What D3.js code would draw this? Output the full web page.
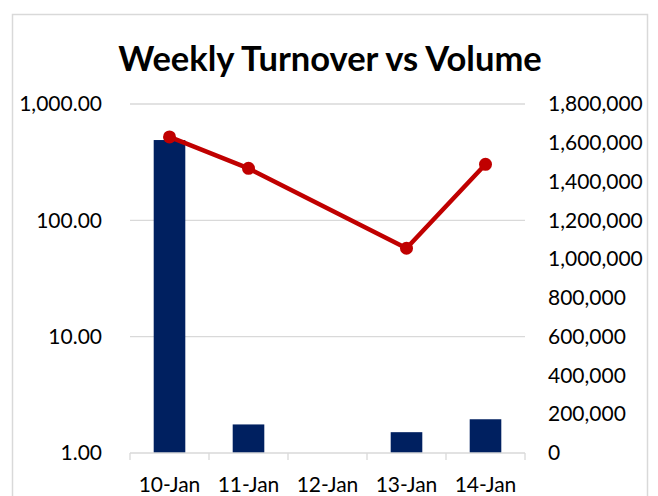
<!DOCTYPE html>
<html>
<head>
<meta charset="utf-8">
<script src="https://cdn.jsdelivr.net/npm/d3@7"></script>
<style>
  body { margin: 0; background: #fff; }
  svg { display: block; font-family: Lato, "Noto Sans", sans-serif; }
</style>
</head>
<body>
<div id="chart"></div>
<script>
// data
var categories = ['10-Jan', '11-Jan', '12-Jan', '13-Jan', '14-Jan'];
var turnover = [490, 1.76, null, 1.51, 1.95];           // bars, left log axis
var volume = [1630000, 1468000, null, 1056000, 1489000]; // line, right axis
var leftTicks = [1, 10, 100, 1000];
var rightTicks = [0, 200000, 400000, 600000, 800000, 1000000, 1200000, 1400000, 1600000, 1800000];

var width = 658, height = 496;
var plot = { left: 130, right: 525, top: 104, bottom: 453 };

var svg = d3.select('#chart').append('svg')
    .attr('width', width)
    .attr('height', height);

// chart area border
svg.append('rect')
    .attr('x', 12.5).attr('y', 14.5)
    .attr('width', 635).attr('height', 500)
    .attr('fill', 'none')
    .attr('stroke', '#d9d9d9')
    .attr('stroke-width', 1.5);

var title = svg.append('text')
    .attr('x', 330)
    .attr('y', 71)
    .attr('text-anchor', 'middle')
    .attr('font-size', 34.5)
    .attr('font-weight', 'bold')
    .attr('fill', '#000')
    .text('Weekly Turnover vs Volume');

var x = d3.scaleBand()
    .domain(categories)
    .range([plot.left, plot.right])
    .paddingInner(0)
    .paddingOuter(0);

var yLeft = d3.scaleLog()
    .domain([1, 1000])
    .range([plot.bottom, plot.top]);

var yRight = d3.scaleLinear()
    .domain([0, 1800000])
    .range([plot.bottom, plot.top]);

// gridlines
svg.append('g')
    .selectAll('line')
    .data(leftTicks.slice(1))
    .join('line')
    .attr('x1', plot.left).attr('x2', plot.right)
    .attr('y1', d => yLeft(d)).attr('y2', d => yLeft(d))
    .attr('stroke', '#d9d9d9')
    .attr('stroke-width', 1.3);

// bars
var barW = x.bandwidth() * 0.4;
svg.append('g')
    .selectAll('rect')
    .data(categories.map((c, i) => ({ c: c, v: turnover[i] })).filter(d => d.v != null))
    .join('rect')
    .attr('x', d => x(d.c) + (x.bandwidth() - barW) / 2)
    .attr('width', barW)
    .attr('y', d => yLeft(d.v))
    .attr('height', d => plot.bottom - yLeft(d.v))
    .attr('fill', '#002060');

// bottom axis
var xAxis = svg.append('g')
    .attr('transform', `translate(0,${plot.bottom})`)
    .call(d3.axisBottom(x).tickSize(0).tickPadding(24));
xAxis.select('.domain').remove();
xAxis.selectAll('text')
    .attr('font-size', 21)
    .attr('font-family', 'Lato, sans-serif')
    .attr('fill', '#000');
xAxis.append('line')
    .attr('x1', plot.left).attr('x2', plot.right)
    .attr('stroke', '#d9d9d9').attr('stroke-width', 1.3);
xAxis.selectAll('.sep')
    .data(d3.range(categories.length + 1))
    .join('line')
    .attr('class', 'sep')
    .attr('x1', d => plot.left + d * x.bandwidth())
    .attr('x2', d => plot.left + d * x.bandwidth())
    .attr('y1', 0).attr('y2', 7)
    .attr('stroke', '#d9d9d9').attr('stroke-width', 1.3);

// left axis
var leftAxis = svg.append('g')
    .attr('transform', `translate(${plot.left},0)`)
    .call(d3.axisLeft(yLeft).tickValues(leftTicks).tickFormat(d3.format(',.2f')).tickSize(0).tickPadding(28));
leftAxis.select('.domain').remove();
leftAxis.selectAll('text')
    .attr('font-size', 21)
    .attr('font-family', 'Lato, sans-serif')
    .attr('fill', '#000');

// right axis
var rightAxis = svg.append('g')
    .attr('transform', `translate(${plot.right},0)`)
    .call(d3.axisRight(yRight).tickValues(rightTicks).tickFormat(d3.format(',')).tickSize(0).tickPadding(23));
rightAxis.select('.domain').remove();
rightAxis.selectAll('text')
    .attr('font-size', 21)
    .attr('font-family', 'Lato, sans-serif')
    .attr('fill', '#000');

// line (empty cells bridged)
var pts = categories.map((c, i) => ({ c: c, v: volume[i] })).filter(d => d.v != null);
var line = d3.line()
    .x(d => x(d.c) + x.bandwidth() / 2)
    .y(d => yRight(d.v));

svg.append('path')
    .datum(pts)
    .attr('d', line)
    .attr('fill', 'none')
    .attr('stroke', '#c00000')
    .attr('stroke-width', 4.5)
    .attr('stroke-linejoin', 'round');

svg.append('g')
    .selectAll('circle')
    .data(pts)
    .join('circle')
    .attr('cx', d => x(d.c) + x.bandwidth() / 2)
    .attr('cy', d => yRight(d.v))
    .attr('r', 6.5)
    .attr('fill', '#c00000');
</script>
</body>
</html>
